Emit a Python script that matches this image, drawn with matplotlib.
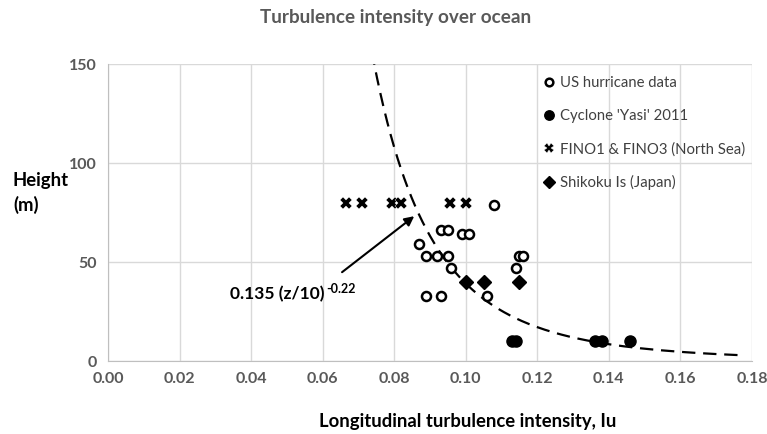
import numpy as np
import matplotlib
matplotlib.use("Agg")
import matplotlib.pyplot as plt

plt.rcParams['font.family'] = ['Lato', 'DejaVu Sans']

# US hurricane data (open circles)
us_iu = [0.108, 0.093, 0.095, 0.099, 0.101, 0.087, 0.089, 0.092, 0.095, 0.096,
         0.089, 0.093, 0.106, 0.114, 0.115, 0.116]
us_z = [79, 66, 66, 64, 64, 59, 53, 53, 53, 47, 33, 33, 33, 47, 53, 53]

# Cyclone 'Yasi' 2011 (filled circles)
yasi_iu = [0.113, 0.114, 0.136, 0.138, 0.146]
yasi_z = [10, 10, 10, 10, 10]

# FINO1 & FINO3 (crosses)
fino_iu = [0.0665, 0.071, 0.0795, 0.082, 0.0955, 0.100]
fino_z = [80, 80, 80, 80, 80, 80]

# Shikoku Is (diamonds)
shikoku_iu = [0.100, 0.105, 0.115]
shikoku_z = [40, 40, 40]

# model curve heights
curve_z = np.linspace(3, 150, 300)
curve_iu = 0.135 * (curve_z / 10) ** -0.22

gray = '#595959'

fig = plt.figure(figsize=(7.67, 4.34), dpi=100)
ax = fig.add_axes([0.1408, 0.1682, 0.9805 - 0.1408, 0.8525 - 0.1682])

ax.plot(curve_iu, curve_z, color='black', lw=1.6, dashes=[6, 3.5], zorder=2)

ax.plot(us_iu, us_z, 'o', ms=6.5, mfc='white', mec='black', mew=1.8, ls='none',
        label='US hurricane data', zorder=3)
ax.plot(yasi_iu, yasi_z, 'o', ms=8, color='black', ls='none',
        label="Cyclone 'Yasi' 2011", zorder=3)
ax.plot(fino_iu, fino_z, 'X', ms=8, color='black', mec='white', mew=0.3, ls='none',
        label='FINO1 & FINO3 (North Sea)', zorder=3)
ax.plot(shikoku_iu, shikoku_z, 'D', ms=7, color='black', ls='none',
        label='Shikoku Is (Japan)', zorder=3)

ax.set_xlim(0, 0.18)
ax.set_ylim(0, 150)
ax.set_xticks(np.arange(0, 0.181, 0.02))
ax.set_yticks([0, 50, 100, 150])
ax.xaxis.set_major_formatter(plt.FuncFormatter(lambda v, p: f'{v:.2f}'))
ax.grid(True, color='#d9d9d9', lw=1)
ax.set_axisbelow(True)
for s in ['top', 'right']:
    ax.spines[s].set_visible(False)
for s in ['left', 'bottom']:
    ax.spines[s].set_color('#bfbfbf')
ax.tick_params(length=0, pad=8, labelsize=11.5, labelcolor=gray)
for lab in ax.get_xticklabels() + ax.get_yticklabels():
    lab.set_fontweight('bold')

ax.annotate('', xy=(0.0862, 74), xytext=(0.0648, 44),
            arrowprops=dict(arrowstyle='-|>', color='black', lw=1.5,
                            mutation_scale=14))
main = ax.text(0.0341, 34, '0.135 (z/10)', fontsize=12.5, fontweight='bold',
               va='center', ha='left')
ax.annotate('-0.22', xy=(1, 0.5), xycoords=main, xytext=(1.2, 3.5),
            textcoords='offset points', fontsize=9, fontweight='bold',
            va='center', ha='left')

fig.text(396 / 767, 1 - 18 / 434, 'Turbulence intensity over ocean',
         ha='center', va='center', fontsize=13.6, fontweight='bold', color=gray)
fig.text(13 / 767, 1 - 193 / 434, 'Height\n(m)', ha='left', va='center',
         fontsize=13.3, fontweight='bold', linespacing=1.45)
fig.text(468 / 767, 1 - 421 / 434, 'Longitudinal turbulence intensity, Iu',
         ha='center', va='center', fontsize=13.3, fontweight='bold')

leg = ax.legend(loc='upper left', bbox_to_anchor=(537 / 767, 1 - 69 / 434),
                bbox_transform=fig.transFigure, frameon=False, fontsize=10.7,
                handlelength=0.6, handletextpad=0.45, labelspacing=1.26,
                borderpad=0, markerscale=0.85)
for t in leg.get_texts():
    t.set_color('#404040')

fig.savefig('out.png', dpi=100)
